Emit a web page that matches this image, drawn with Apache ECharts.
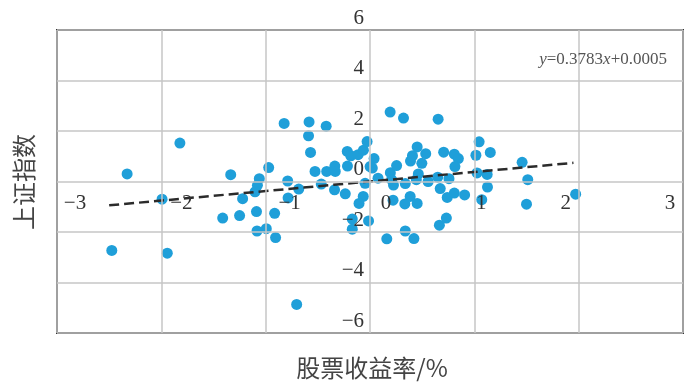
<!DOCTYPE html>
<html><head><meta charset="utf-8">
<script src="https://cdn.jsdelivr.net/npm/echarts@6/dist/echarts.min.js"></script>
<style>html,body{margin:0;padding:0;background:#fff}#c{width:684px;height:384px}</style>
</head><body><div id="c"></div>
<script>
// ---- data ----
const xTicks = [-3, -2, -1, 0, 1, 2, 3];
const yTicks = [-6, -4, -2, 0, 2, 4, 6];
const stockReturn = [
 -2.475,-2.328,-1.943,-1.993,-1.822,-1.335,-1.412,-1.250,-1.221,-1.088,
 -1.083,-0.994,-0.905,-0.914,-0.971,-1.061,-1.079,-1.102,-0.789,-0.785,
 -0.683,-0.823,-0.703,-0.584,-0.589,-0.570,-0.527,-0.467,-0.420,-0.415,
 -0.337,-0.333,-0.340,-0.237,-0.218,-0.216,-0.184,-0.114,-0.063,-0.028,
  0.039, 0.001,-0.047,-0.065,-0.105,-0.170,-0.170,-0.014, 0.077, 0.193,
  0.321, 0.653, 0.161, 0.338, 0.421, 0.221, 0.334, 0.385, 0.452, 0.195,
  0.255, 0.225, 0.338, 0.388, 0.407, 0.452, 0.534, 0.497, 0.444, 0.557,
  0.673, 0.706, 0.649, 0.757, 0.740, 0.808, 0.907, 0.808, 0.847, 0.814,
  0.665, 0.732, 1.015, 1.046, 1.153, 1.026, 1.123, 1.126, 1.071, 1.458,
  1.512, 1.500, 1.971, 0.463, 0.207, 0.022
];
const shIndex = [
 -2.73, 0.30,-2.84,-0.70, 1.52, 0.27,-1.45,-1.35,-0.68,-1.19,
 -1.96,-1.87,-2.22,-1.26, 0.55, 0.11,-0.15,-0.41, 0.02,-0.65,
 -0.30, 2.30,-4.87, 2.36, 1.81, 1.15, 0.40,-0.10, 2.19, 0.40,
  0.61, 0.40,-0.33,-0.49, 1.19, 0.61, 1.02, 1.06, 1.24, 1.58,
  0.91, 0.59,-0.07,-0.59,-0.87,-1.49,-1.89,-1.56, 0.13, 2.75,
  2.51, 2.47,-2.27,-1.96,-2.26,-0.74,-0.89,-0.59,-0.87, 0.35,
  0.63,-0.14,-0.08, 0.81, 1.02, 1.37, 1.10, 0.72, 0.07, 0.00,
 -0.28, 1.16, 0.17, 0.11,-0.63,-0.46,-0.53, 1.08, 0.91, 0.59,
 -1.73,-1.45, 1.04, 1.57, 1.15, 0.34, 0.28,-0.22,-0.72, 0.76,
  0.07,-0.90,-0.50, 0.30, 0.07, 0.53
];
const fitX = [-2.50, 1.95];
const fitY = [-0.945, 0.738];
const equationText = ['y', '=0.3783', 'x', '+0.0005'];
const xName = '股票收益率/%';
const yName = '上证指数';

// ---- chart ----
const pts = stockReturn.map((x, i) => [x, shIndex[i]]);
const fitPts = fitX.map((x, i) => [x, fitY[i]]);
const G = {left: 57, top: 30, width: 626, height: 303};
const xMin = -3, xMax = 3, yMin = -6, yMax = 6;
// axes drawn through the origin: offset them inward from the grid edges
const xAxisOffset = -G.height * (0 - yMin) / (yMax - yMin);
const yAxisOffset = -G.width * (0 - xMin) / (xMax - xMin);
const labelShift = [18, 20, 24, 16, 7, -13, -13];
const rich = {};
labelShift.forEach((s, i) => {
  rich['s' + i] = {
    fontFamily: 'Liberation Serif', fontSize: 21, color: '#333', lineHeight: 20,
    padding: s > 0 ? [0, 0, 0, 2 * s] : [0, -2 * s, 0, 0]
  };
});
const fmt = v => String(v).replace('-', '\u2212');

const chart = echarts.init(document.getElementById('c'), null, {renderer: 'canvas'});
chart.setOption({
  animation: false,
  backgroundColor: '#fff',
  grid: Object.assign({show: true, borderColor: '#333', borderWidth: 2,
         backgroundColor: 'transparent', outerBoundsMode: 'none', containLabel: false}, G),
  xAxis: {
    type: 'value', min: xMin, max: xMax, interval: 1, z: 10,
    position: 'bottom', offset: xAxisOffset,
    axisLine: {show: false, onZero: false},
    axisTick: {show: false},
    splitLine: {show: true, lineStyle: {color: '#c6c6c6', width: 1.5}},
    axisLabel: {
      showMinLabel: true, showMaxLabel: true, hideOverlap: false, margin: 12,
      formatter: v => { const i = xTicks.indexOf(v); return '{s' + i + '|' + fmt(v) + '}'; },
      rich: rich
    }
  },
  yAxis: {
    type: 'value', min: yMin, max: yMax, interval: 2, z: 10,
    position: 'left', offset: yAxisOffset,
    axisLine: {show: false, onZero: false},
    axisTick: {show: false},
    splitLine: {show: true, lineStyle: {color: '#c6c6c6', width: 1.5}},
    axisLabel: {
      showMinLabel: true, showMaxLabel: true, hideOverlap: false, margin: 6,
      fontFamily: 'Liberation Serif', fontSize: 21, color: '#333',
      verticalAlign: 'bottom', lineHeight: 20, padding: [0, 0, 2, 0],
      formatter: v => yTicks.includes(v) ? fmt(v) : ''
    }
  },
  series: [
    {type: 'scatter', data: pts, symbolSize: 11, z: 2,
     itemStyle: {color: '#1f9fd9', opacity: 1}},
    {type: 'line', data: fitPts, symbol: 'none', z: 5,
     lineStyle: {color: '#2b2b2b', width: 2.5, type: [10, 5]}}
  ],
  graphic: [
    {type: 'text', x: 667, y: 60, z: 20,
     style: {text: '{i|' + equationText[0] + '}{n|' + equationText[1] + '}{i|' + equationText[2] + '}{n|' + equationText[3] + '}',
       align: 'right', verticalAlign: 'middle',
       rich: {i: {fontFamily: 'Liberation Serif', fontStyle: 'italic', fontSize: 17, fill: '#555'},
              n: {fontFamily: 'Liberation Serif', fontSize: 17, fill: '#555'}}}},
    {type: 'text', x: 372, y: 368, z: 20,
     style: {text: xName, align: 'center', verticalAlign: 'middle',
       fontFamily: 'Noto Sans CJK SC', fontSize: 24, fill: '#444'}},
    {type: 'text', x: 24, y: 182, rotation: Math.PI / 2, z: 20,
     style: {text: yName, align: 'center', verticalAlign: 'middle',
       fontFamily: 'Noto Sans CJK SC', fontSize: 24, fill: '#444'}}
  ]
});
</script>
</body></html>
